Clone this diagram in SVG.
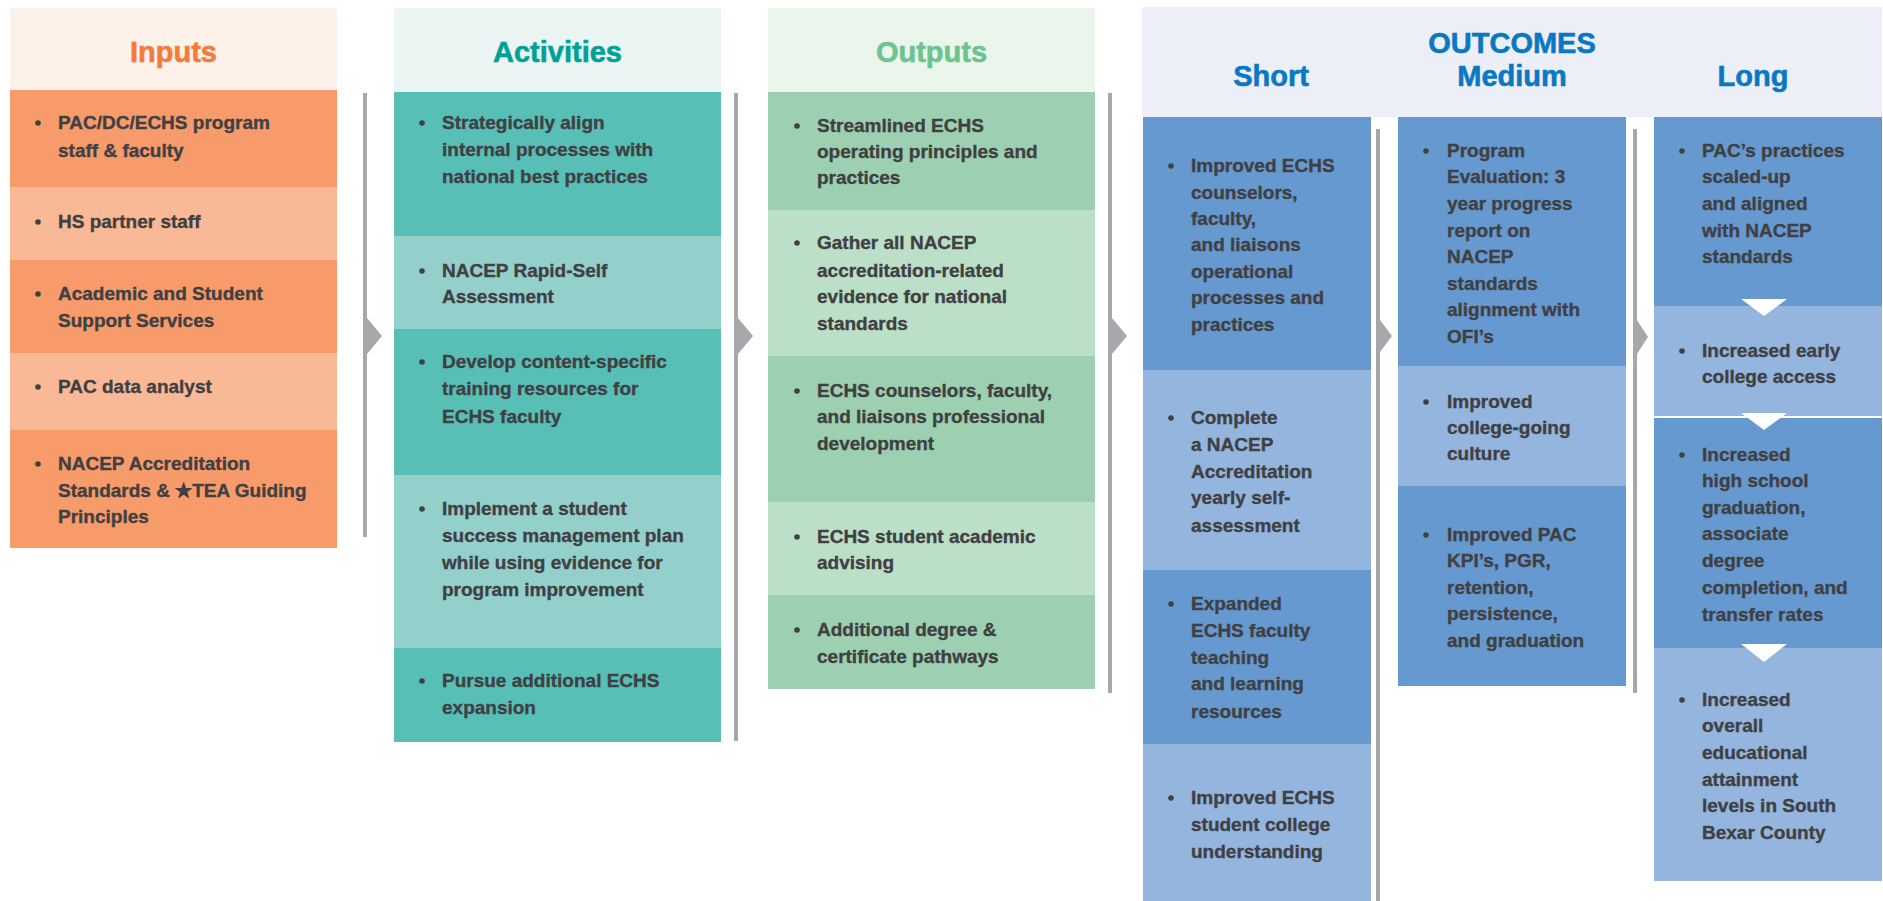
<svg xmlns="http://www.w3.org/2000/svg" width="1883" height="901" viewBox="0 0 1883 901">
<style>
text{font-family:"Liberation Sans",Arial,sans-serif;font-weight:bold}
.t{font-size:19px;fill:#404043;stroke:#404043;stroke-width:0.35}
.h{font-size:29px;text-anchor:middle;stroke-width:0.6}
.b{fill:#404043}
.ln{fill:#a7a8ab}
.io{fill:#f79b6b}.il{fill:#fab996}
.ad{fill:#57bfb6}.al{fill:#93d0cc}
.od{fill:#9dd0b0}.ol{fill:#bcdfc7}
.cd{fill:#6699d0}.cl{fill:#94b5de}
</style>
<rect width="1883" height="901" fill="#ffffff"/>

<g id="connectors">
<rect class="ln" x="363" y="93" width="4" height="444"/>
<polygon class="ln" points="367,318 382,336 367,354"/>
<rect class="ln" x="734" y="93" width="4" height="648"/>
<polygon class="ln" points="738,318 753,336 738,354"/>
<rect class="ln" x="1108" y="93" width="4" height="600"/>
<polygon class="ln" points="1112,318 1127,336 1112,354"/>
<rect class="ln" x="1376" y="129" width="4" height="772"/>
<polygon class="ln" points="1380,320 1392,336 1380,352"/>
<rect class="ln" x="1633" y="129" width="4" height="564"/>
<polygon class="ln" points="1637,320 1648,337 1637,354"/>
</g>

<g id="inputs">
<rect x="10" y="8" width="327" height="82" fill="#fdf2ea"/>
<text class="h" x="173.5" y="62" fill="#f47b3a" stroke="#f47b3a">Inputs</text>
<rect class="io" x="10" y="90" width="327" height="97"/>
<rect class="il" x="10" y="187" width="327" height="73"/>
<rect class="io" x="10" y="260" width="327" height="93"/>
<rect class="il" x="10" y="353" width="327" height="77"/>
<rect class="io" x="10" y="430" width="327" height="118"/>
<g class="b"><circle cx="38" cy="123" r="2.8"/><circle cx="38" cy="222" r="2.8"/><circle cx="38" cy="294" r="2.8"/><circle cx="38" cy="387" r="2.8"/><circle cx="38" cy="464" r="2.8"/></g>
<text class="t"><tspan x="58" y="129">PAC/DC/ECHS program</tspan><tspan x="58" y="157">staff &amp; faculty</tspan></text>
<text class="t" x="58" y="228">HS partner staff</text>
<text class="t"><tspan x="58" y="300">Academic and Student</tspan><tspan x="58" y="327">Support Services</tspan></text>
<text class="t" x="58" y="393">PAC data analyst</text>
<text class="t"><tspan x="58" y="470">NACEP Accreditation</tspan><tspan x="58" y="497">Standards &amp; ★TEA Guiding</tspan><tspan x="58" y="523">Principles</tspan></text>
</g>

<g id="activities">
<rect x="394" y="8" width="327" height="84" fill="#ebf5f3"/>
<text class="h" x="557.5" y="62" fill="#00a196" stroke="#00a196">Activities</text>
<rect class="ad" x="394" y="92" width="327" height="144"/>
<rect class="al" x="394" y="236" width="327" height="93"/>
<rect class="ad" x="394" y="329" width="327" height="146"/>
<rect class="al" x="394" y="475" width="327" height="173"/>
<rect class="ad" x="394" y="648" width="327" height="94"/>
<g class="b"><circle cx="422" cy="123" r="2.8"/><circle cx="422" cy="271" r="2.8"/><circle cx="422" cy="362" r="2.8"/><circle cx="422" cy="509" r="2.8"/><circle cx="422" cy="681" r="2.8"/></g>
<text class="t"><tspan x="442" y="129">Strategically align</tspan><tspan x="442" y="156">internal processes with</tspan><tspan x="442" y="183">national best practices</tspan></text>
<text class="t"><tspan x="442" y="277">NACEP Rapid-Self</tspan><tspan x="442" y="303">Assessment</tspan></text>
<text class="t"><tspan x="442" y="368">Develop content-specific</tspan><tspan x="442" y="395">training resources for</tspan><tspan x="442" y="423">ECHS faculty</tspan></text>
<text class="t"><tspan x="442" y="515">Implement a student</tspan><tspan x="442" y="542">success management plan</tspan><tspan x="442" y="569">while using evidence for</tspan><tspan x="442" y="596">program improvement</tspan></text>
<text class="t"><tspan x="442" y="687">Pursue additional ECHS</tspan><tspan x="442" y="714">expansion</tspan></text>
</g>

<g id="outputs">
<rect x="768" y="8" width="327" height="84" fill="#eaf5ec"/>
<text class="h" x="931.5" y="62" fill="#6cc48e" stroke="#6cc48e">Outputs</text>
<rect class="od" x="768" y="92" width="327" height="118"/>
<rect class="ol" x="768" y="210" width="327" height="146"/>
<rect class="od" x="768" y="356" width="327" height="146"/>
<rect class="ol" x="768" y="502" width="327" height="93"/>
<rect class="od" x="768" y="595" width="327" height="94"/>
<g class="b"><circle cx="797" cy="126" r="2.8"/><circle cx="797" cy="243" r="2.8"/><circle cx="797" cy="391" r="2.8"/><circle cx="797" cy="537" r="2.8"/><circle cx="797" cy="630" r="2.8"/></g>
<text class="t"><tspan x="817" y="132">Streamlined ECHS</tspan><tspan x="817" y="158">operating principles and</tspan><tspan x="817" y="184">practices</tspan></text>
<text class="t"><tspan x="817" y="249">Gather all NACEP</tspan><tspan x="817" y="277">accreditation-related</tspan><tspan x="817" y="303">evidence for national</tspan><tspan x="817" y="330">standards</tspan></text>
<text class="t"><tspan x="817" y="397">ECHS counselors, faculty,</tspan><tspan x="817" y="423">and liaisons professional</tspan><tspan x="817" y="450">development</tspan></text>
<text class="t"><tspan x="817" y="543">ECHS student academic</tspan><tspan x="817" y="569">advising</tspan></text>
<text class="t"><tspan x="817" y="636">Additional degree &amp;</tspan><tspan x="817" y="663">certificate pathways</tspan></text>
</g>

<g id="outcomes-header">
<rect x="1142" y="7" width="740" height="110" fill="#eceff8"/>
<g fill="#0a78c2" stroke="#0a78c2">
<text class="h" x="1512" y="53">OUTCOMES</text>
<text class="h" x="1512" y="86">Medium</text>
<text class="h" x="1271" y="86">Short</text>
<text class="h" x="1753" y="86">Long</text>
</g>
</g>

<g id="short">
<rect class="cd" x="1143" y="117" width="228" height="253"/>
<rect class="cl" x="1143" y="370" width="228" height="200"/>
<rect class="cd" x="1143" y="570" width="228" height="174"/>
<rect class="cl" x="1143" y="744" width="228" height="157"/>
<g class="b"><circle cx="1171" cy="166" r="2.8"/><circle cx="1171" cy="418" r="2.8"/><circle cx="1171" cy="604" r="2.8"/><circle cx="1171" cy="798" r="2.8"/></g>
<text class="t"><tspan x="1191" y="172">Improved ECHS</tspan><tspan x="1191" y="199">counselors,</tspan><tspan x="1191" y="225">faculty,</tspan><tspan x="1191" y="251">and liaisons</tspan><tspan x="1191" y="278">operational</tspan><tspan x="1191" y="304">processes and</tspan><tspan x="1191" y="331">practices</tspan></text>
<text class="t"><tspan x="1191" y="424">Complete</tspan><tspan x="1191" y="451">a NACEP</tspan><tspan x="1191" y="478">Accreditation</tspan><tspan x="1191" y="504">yearly self-</tspan><tspan x="1191" y="532">assessment</tspan></text>
<text class="t"><tspan x="1191" y="610">Expanded</tspan><tspan x="1191" y="637">ECHS faculty</tspan><tspan x="1191" y="664">teaching</tspan><tspan x="1191" y="690">and learning</tspan><tspan x="1191" y="718">resources</tspan></text>
<text class="t"><tspan x="1191" y="804">Improved ECHS</tspan><tspan x="1191" y="831">student college</tspan><tspan x="1191" y="858">understanding</tspan></text>
</g>

<g id="medium">
<rect class="cd" x="1398" y="117" width="228" height="249"/>
<rect class="cl" x="1398" y="366" width="228" height="120"/>
<rect class="cd" x="1398" y="486" width="228" height="200"/>
<g class="b"><circle cx="1426" cy="151" r="2.8"/><circle cx="1426" cy="402" r="2.8"/><circle cx="1426" cy="535" r="2.8"/></g>
<text class="t"><tspan x="1447" y="157">Program</tspan><tspan x="1447" y="183">Evaluation: 3</tspan><tspan x="1447" y="210">year progress</tspan><tspan x="1447" y="237">report on</tspan><tspan x="1447" y="263">NACEP</tspan><tspan x="1447" y="290">standards</tspan><tspan x="1447" y="316">alignment with</tspan><tspan x="1447" y="343">OFI’s</tspan></text>
<text class="t"><tspan x="1447" y="408">Improved</tspan><tspan x="1447" y="434">college-going</tspan><tspan x="1447" y="460">culture</tspan></text>
<text class="t"><tspan x="1447" y="541">Improved PAC</tspan><tspan x="1447" y="567">KPI’s, PGR,</tspan><tspan x="1447" y="594">retention,</tspan><tspan x="1447" y="620">persistence,</tspan><tspan x="1447" y="647">and graduation</tspan></text>
</g>

<g id="long">
<rect class="cd" x="1654" y="117" width="228" height="189"/>
<rect class="cl" x="1654" y="306" width="228" height="110"/>
<rect class="cd" x="1654" y="418" width="228" height="230"/>
<rect class="cl" x="1654" y="648" width="228" height="233"/>
<g fill="#ffffff"><polygon points="1741,299 1787,299 1764,316"/><polygon points="1741,413 1787,413 1764,430"/><polygon points="1741,644 1787,644 1764,662"/></g>
<g class="b"><circle cx="1682" cy="151" r="2.8"/><circle cx="1682" cy="351" r="2.8"/><circle cx="1682" cy="455" r="2.8"/><circle cx="1682" cy="700" r="2.8"/></g>
<text class="t"><tspan x="1702" y="157">PAC’s practices</tspan><tspan x="1702" y="183">scaled-up</tspan><tspan x="1702" y="210">and aligned</tspan><tspan x="1702" y="237">with NACEP</tspan><tspan x="1702" y="263">standards</tspan></text>
<text class="t"><tspan x="1702" y="357">Increased early</tspan><tspan x="1702" y="383">college access</tspan></text>
<text class="t"><tspan x="1702" y="461">Increased</tspan><tspan x="1702" y="487">high school</tspan><tspan x="1702" y="514">graduation,</tspan><tspan x="1702" y="540">associate</tspan><tspan x="1702" y="567">degree</tspan><tspan x="1702" y="594">completion, and</tspan><tspan x="1702" y="621">transfer rates</tspan></text>
<text class="t"><tspan x="1702" y="706">Increased</tspan><tspan x="1702" y="732">overall</tspan><tspan x="1702" y="759">educational</tspan><tspan x="1702" y="786">attainment</tspan><tspan x="1702" y="812">levels in South</tspan><tspan x="1702" y="839">Bexar County</tspan></text>
</g>
</svg>
